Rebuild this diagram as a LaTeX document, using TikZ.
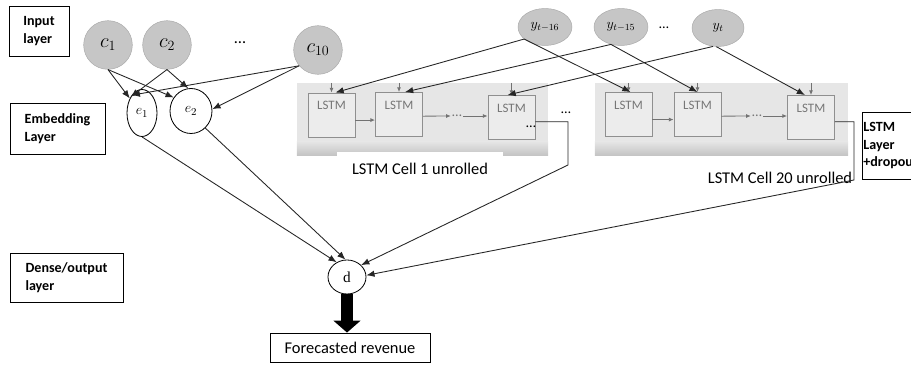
\documentclass[tikz,border=0pt]{standalone}
\usepackage{fontspec}
\setmainfont{Carlito}
\newfontfamily\serifletter{Liberation Serif}
\usetikzlibrary{arrows.meta,calc,shapes.geometric}

\definecolor{nodegray}{HTML}{C6C6C6}
\definecolor{nodeline}{HTML}{A8A8A8}
\definecolor{bggray}{HTML}{E6E6E6}
\definecolor{bgdark}{HTML}{C4C4C4}
\definecolor{boxfill}{HTML}{ECECEC}
\definecolor{boxline}{HTML}{8F8F8F}
\definecolor{lstmtext}{HTML}{767676}

\begin{document}
\begin{tikzpicture}[x=0.03cm, y=-0.03cm]
        \tikzstyle{layer} = [rectangle, draw, align=left, inner sep=2pt, font=\fontsize{12}{15}\selectfont\bfseries]
        \tikzstyle{innode} = [circle, fill=nodegray, draw=nodeline, minimum size=1.46cm, inner sep=0pt, font=\fontsize{17}{17}\selectfont]
        \tikzstyle{ynode} = [ellipse, fill=nodegray, draw=nodeline, minimum width=1.62cm, minimum height=1.11cm, inner sep=0pt, font=\fontsize{12}{12}\selectfont]
        \tikzstyle{emb} = [ellipse, draw, line width=0.7pt, inner sep=0pt, font=\fontsize{13}{13}\selectfont]
        \tikzstyle{cellbg} = [rectangle, fill=bggray, inner sep=0pt, minimum height=2.16cm]
        \tikzstyle{lstm} = [rectangle, draw=boxline, fill=boxfill, line width=0.8pt, minimum width=1.41cm, minimum height=1.32cm, inner sep=0pt,
            label={[text=lstmtext, font=\fontsize{11}{11}\selectfont, anchor=north, yshift=-4pt]north:LSTM}]
        \tikzstyle{conn} = [-{Latex[length=7pt,width=5.5pt]}, line width=0.75pt, draw=black!85]
        \tikzstyle{stepin} = [-{Latex[length=4pt,width=3.5pt]}, draw=boxline!80!black, line width=0.7pt]
        \tikzstyle{dots} = [inner sep=1pt, font=\fontsize{12}{12}\selectfont]

        \useasboundingbox (0,0) rectangle (911,371);
        \clip (0,0) rectangle (911,371);

        % layer captions
        \node[layer, minimum width=1.8cm, minimum height=1.5cm] (inlbl) at (39,31) {Input\\layer};
        \node[layer, minimum width=2.85cm, minimum height=1.53cm] (emlbl) at (57.5,128.5) {Embedding\\Layer};
        \node[layer, minimum width=3.39cm, minimum height=1.47cm] (dnlbl) at (66.5,277.5) {Dense/output\\layer};
        \node[layer, anchor=north west, text width=1.9cm, inner xsep=1pt, minimum height=2.01cm] (lstmlbl) at (862,112) {LSTM\\Layer\\+dropout};

        % categorical inputs and embeddings
        \foreach \i/\x in {1/108, 2/167} {
            \node[innode] (c\i) at (\x,45) {$c_\i$};
        }
        \node[innode] (c10) at (318,50) {$c_{10}$};
        \node[dots, font=\fontsize{14}{14}\selectfont] (cdots) at (240,43) {\dots};
        \node[emb, minimum width=0.9cm, minimum height=1.41cm] (e1) at (142,113) {$e_1$};
        \node[emb, minimum width=1.26cm, minimum height=1.35cm] (e2) at (191,111) {$e_2$};

        % unrolled LSTM cells
        \node[cellbg, minimum width=7.53cm] (bg1) at (422.5,119) {};
        \node[cellbg, minimum width=7.59cm] (bg20) at (721.5,119) {};
        \shade[top color=bggray, bottom color=bgdark] ($(bg1.south west)+(0,-14)$) rectangle (bg1.south east);
        \shade[top color=bggray, bottom color=bgdark] ($(bg20.south west)+(0,-14)$) rectangle (bg20.south east);
        \node[fill=white, minimum width=4.95cm, minimum height=1.02cm, font=\fontsize{14}{14}\selectfont] (cap1) at (420,169) {LSTM Cell 1 unrolled};
        \node[font=\fontsize{14}{14}\selectfont] (cap20) at (780,178) {LSTM Cell 20 unrolled};

        \foreach \n/\x/\y in {b11/331.5/115, b12/399/114.5, b13/511.5/117.5, b21/628.5/114.5, b22/697.5/114.5, b23/811/117.5} {
            \node[lstm] (\n) at (\x,\y) {};
        }
        \node[dots, text=lstmtext] (dt1) at (457,116) {\dots};
        \node[dots, text=lstmtext] (dt20) at (757,116) {\dots};
        \node[dots] (bdots) at (531,127) {\dots};
        \node[dots] (odots) at (566,113) {\dots};

        \foreach \n/\g in {b11/bg1, b12/bg1, b13/bg1, b21/bg20, b22/bg20, b23/bg20} {
            \draw[stepin] (\n.north |- \g.north) -- (\n.north);
        }
        \draw[stepin] (b11.-12) -- (b11.-12 -| b12.west);
        \draw[stepin] (b12.-4) -- (dt1.west);
        \draw[stepin] (dt1.east) -- (dt1.east -| b13.west);
        \draw[stepin] (b21.-12) -- (b21.-12 -| b22.west);
        \draw[stepin] (b22.-4) -- (dt20.west);
        \draw[stepin] (dt20.east) -- (dt20.east -| b23.west);

        % lagged revenue inputs
        \node[ynode] (y16) at (545,27) {$y_{t-16}$};
        \node[ynode] (y15) at (621,27) {$y_{t-15}$};
        \node[ynode, minimum width=1.56cm] (yt) at (718,28) {$y_t$};
        \node[dots] (ydots) at (664,28) {\dots};

        % dense output
        \node[ellipse, draw, line width=0.7pt, minimum width=1.14cm, minimum height=1.02cm, inner sep=0pt, font=\fontsize{13}{13}\serifletter] (d) at (347,277) {d};
        \node[rectangle, draw, line width=0.7pt, minimum width=4.8cm, minimum height=0.87cm, font=\fontsize{14}{14}\selectfont] (fc) at (350,347.5) {Forecasted revenue};
        \coordinate (o1) at (568,165);
        \coordinate (o20) at (854,180);

        \draw[conn] (c1.south) -- (e1.130);
        \draw[conn] (c1.south) -- (e2.142);
        \draw[conn] (c2.south) -- (e1.125);
        \draw[conn] (c2.south) -- (e2.97);
        \draw[conn] (c10.220) -- (e1.120);
        \draw[conn] (c10.220) -- (e2.5);

        \draw[conn] (y16.210) -- (b11.80);
        \draw[conn] (y16.210) -- (b21.85);
        \draw[conn] (y15.240) -- (b12.75);
        \draw[conn] (y15.240) -- (b22.90);
        \draw[conn] (yt.255) -- (b13.100);
        \draw[conn] (yt.265) -- (b23.105);

        \draw[conn] (e1.south) -- (d.125);
        \draw[conn] (e2.-50) -- (d.95);
        \draw[conn] (b13.-10) -| (o1) -- (d.40);
        \draw[conn] (b23.-10) -| (o20) -- (d.5);

        \draw[line width=0.34cm, -{Triangle[length=0.36cm,width=0.8cm]}] (d.south) -- (d.south |- fc.north);
    \end{tikzpicture}
\end{document}
